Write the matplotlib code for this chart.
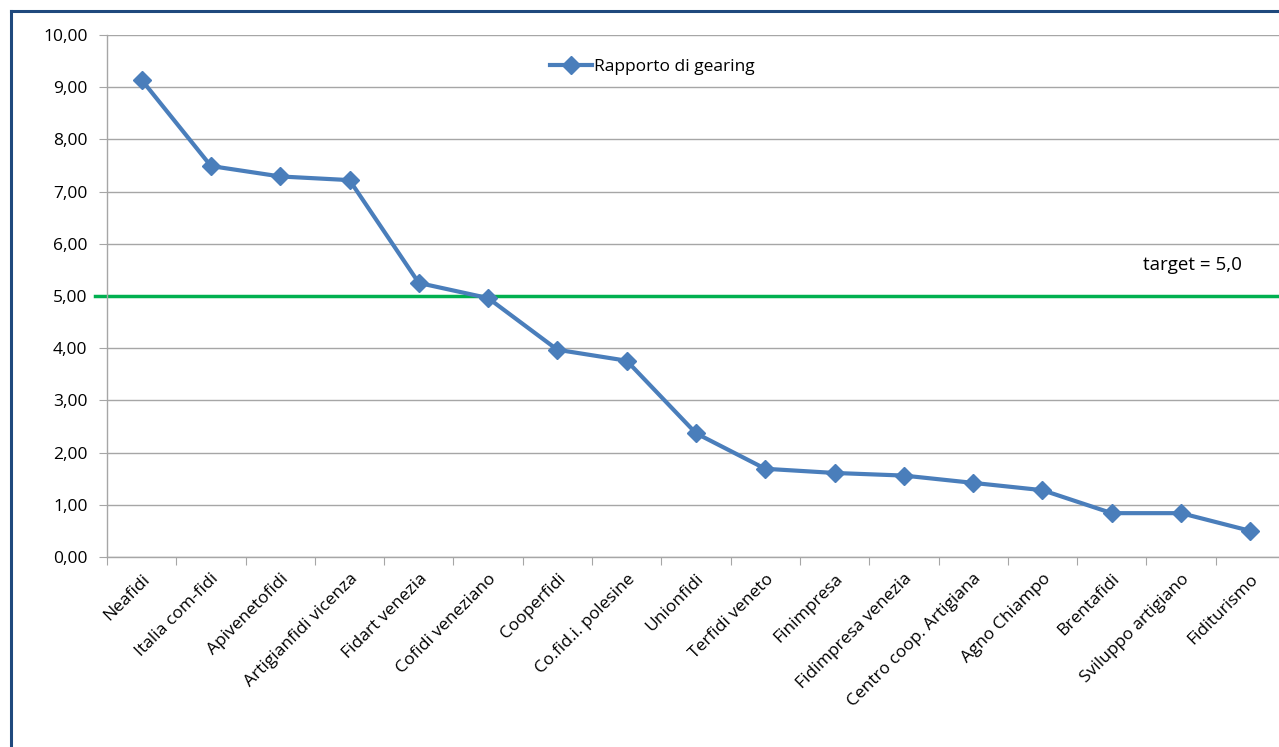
import matplotlib.pyplot as plt
from matplotlib.lines import Line2D

categories = ['Neafidi', 'Italia com-fidi', 'Apivenetofidi', 'Artigianfidi vicenza',
              'Fidart venezia', 'Cofidi veneziano', 'Cooperfidi', 'Co.fid.i. polesine',
              'Unionfidi', 'Terfidi veneto', 'Finimpresa', 'Fidimpresa venezia',
              'Centro coop. Artigiana', 'Agno Chiampo', 'Brentafidi',
              'Sviluppo artigiano', 'Fiditurismo']
gearing = [9.14, 7.49, 7.29, 7.22, 5.25, 4.96, 3.97, 3.76, 2.37, 1.69,
           1.61, 1.56, 1.42, 1.28, 0.84, 0.84, 0.50]
target = 5.0
yticks = [0, 1, 2, 3, 4, 5, 6, 7, 8, 9, 10]

plt.rcParams['font.family'] = ['Open Sans', 'DejaVu Sans']

fig = plt.figure(figsize=(12.79, 7.47), dpi=100)
ax = fig.add_axes([107 / 1279, 190 / 747, 1178 / 1279, 522 / 747])

x = list(range(len(categories)))
ax.plot(x, gearing, color='#4A7EBB', linewidth=3, marker='D', markersize=9,
        label='Rapporto di gearing', zorder=3)

# target line, starts a bit left of the y axis
ax.plot([-0.67, 17], [target, target], color='#00B050', linewidth=2.5,
        clip_on=False, zorder=2)
ax.text(14.45, target + 0.59, 'target = 5,0', fontsize=13.5, color='black',
        ha='left', va='center')

ax.set_xlim(-0.5, len(categories) - 0.5)
ax.set_ylim(0, 10)
ax.set_yticks(yticks)
ax.set_yticklabels([f'{v:.2f}'.replace('.', ',') for v in yticks], fontsize=12.5)
ax.yaxis.grid(True, color='#A6A6A6', linewidth=1)
ax.set_axisbelow(True)

ax.set_xticks([i - 0.5 for i in range(len(categories) + 1)])
ax.set_xticklabels([])
ax.set_xticks(x, minor=True)
ax.set_xticklabels(categories, minor=True, rotation=45, ha='right',
                   rotation_mode='anchor', fontsize=12.5)
ax.tick_params(axis='x', which='minor', length=0, pad=10)
ax.tick_params(axis='x', which='major', length=6, color='#A6A6A6', direction='out')
ax.tick_params(axis='y', length=6, color='#A6A6A6', pad=8)

for s in ['top', 'right']:
    ax.spines[s].set_visible(False)
for s in ['left', 'bottom']:
    ax.spines[s].set_color('#A6A6A6')
    ax.spines[s].set_linewidth(1)

ax.legend(loc='center', bbox_to_anchor=(0.463, 0.939), frameon=False,
          fontsize=12.5, handlelength=2.4, handletextpad=0.1)

# outer frame
fig.add_artist(Line2D([11 / 1279, 11 / 1279], [0, 1 - 11 / 747],
                      color='#1F497D', linewidth=2.2))
fig.add_artist(Line2D([11 / 1279, 1], [1 - 11 / 747, 1 - 11 / 747],
                      color='#1F497D', linewidth=2.2))

fig.savefig('out.png', dpi=100)
